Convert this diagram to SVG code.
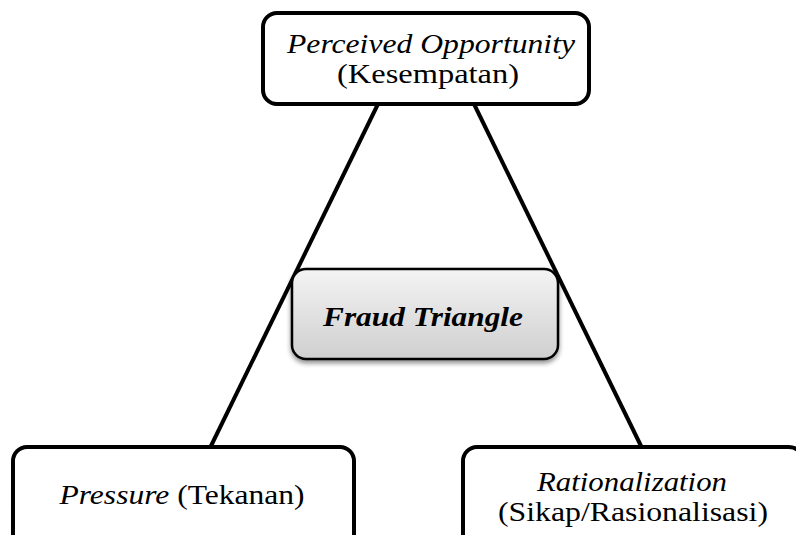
<svg xmlns="http://www.w3.org/2000/svg" width="796" height="535" viewBox="0 0 796 535">
<style>
.box{fill:#fff;stroke:#000;stroke-width:4}
.conn{stroke:#000;stroke-width:4;fill:none}
text{font-family:"Liberation Serif","Times New Roman","DejaVu Serif",serif;font-size:27px;fill:#000;text-anchor:middle}
.i{font-style:italic}
</style>
<defs>
<linearGradient id="g" x1="0" y1="0" x2="0" y2="1">
<stop offset="0" stop-color="#f4f4f4"/>
<stop offset="1" stop-color="#cfcfcf"/>
</linearGradient>
<filter id="sh" x="-10%" y="-10%" width="120%" height="130%">
<feGaussianBlur in="SourceAlpha" stdDeviation="2.5"/>
<feOffset dx="0" dy="3" result="b"/>
<feComponentTransfer><feFuncA type="linear" slope="0.45"/></feComponentTransfer>
<feMerge><feMergeNode/><feMergeNode in="SourceGraphic"/></feMerge>
</filter>
</defs>
<g id="connectors">
<line class="conn" x1="378" y1="104" x2="210" y2="448"/>
<line class="conn" x1="474" y1="104" x2="642" y2="448"/>
</g>
<g id="opportunity">
<rect class="box" x="263" y="13" width="326" height="91" rx="14"/>
<text class="i" x="431" y="53" textLength="288" lengthAdjust="spacingAndGlyphs">Perceived Opportunity</text>
<text x="428" y="83" textLength="182" lengthAdjust="spacingAndGlyphs">(Kesempatan)</text>
</g>
<g id="fraud">
<rect x="292" y="269" width="266" height="90" rx="14" fill="url(#g)" stroke="#000" stroke-width="2.5" filter="url(#sh)"/>
<text class="i" x="423" y="326" font-weight="bold" textLength="200" lengthAdjust="spacingAndGlyphs">Fraud Triangle</text>
</g>
<g id="pressure">
<rect class="box" x="13" y="447" width="341" height="110" rx="14"/>
<text x="182" y="504" textLength="245" lengthAdjust="spacingAndGlyphs"><tspan class="i">Pressure</tspan> (Tekanan)</text>
</g>
<g id="rationalization">
<rect class="box" x="463" y="447" width="340" height="110" rx="14"/>
<text class="i" x="632" y="491" textLength="190" lengthAdjust="spacingAndGlyphs">Rationalization</text>
<text x="633" y="521" textLength="270" lengthAdjust="spacingAndGlyphs">(Sikap/Rasionalisasi)</text>
</g>
</svg>
